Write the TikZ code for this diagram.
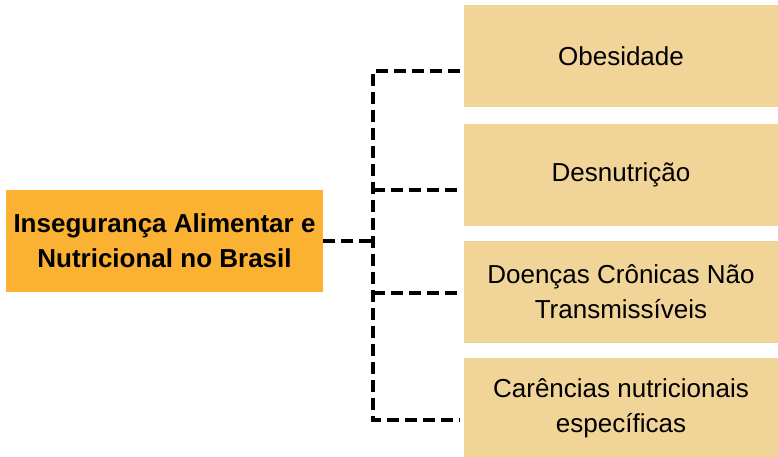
\documentclass[tikz,border=0pt]{standalone}
\usepackage{fontspec}
\setmainfont{Liberation Sans}
\usepackage{xcolor}
\usepackage{tikz}

\definecolor{laranja}{HTML}{FBB232}
\definecolor{bege}{HTML}{F0D498}

\begin{document}
\begin{tikzpicture}[x=1pt, y=-1pt,
    tema/.style={fill=laranja, minimum width=317pt, minimum height=102pt,
        inner sep=0pt, align=center, font=\fontsize{26}{35}\selectfont\bfseries},
    efeito/.style={fill=bege, minimum width=314pt, minimum height=102pt,
        inner sep=0pt, align=center, font=\fontsize{26}{35}\selectfont},
    ligacao/.style={line width=3.4pt, dash pattern=on 12pt off 6pt}]
    \useasboundingbox (0,0) rectangle (778,457);

    % Caixa central
    \node[tema] (inseg) at (164.5,241) {Insegurança Alimentar e\\Nutricional no Brasil};

    % Consequencias
    \node[efeito] (obes) at (621,56) {Obesidade};
    \node[efeito, text height=19pt, text depth=6pt] (desn) at (621,175) {Desnutrição};
    \node[efeito] (dcnt) at (621,291.5) {Doenças Crônicas Não\\Transmissíveis};
    \node[efeito] (care) at (621,408.5) {Carências nutricionais\\específicas};

    % Pontos do tronco tracejado
    \coordinate (troncoA) at (373,71);
    \coordinate (troncoB) at (373,420);
    \coordinate (fimA) at (460,71);
    \coordinate (fimB) at (460,190);
    \coordinate (fimC) at (460,293);
    \coordinate (fimD) at (460,420);

    % Ligacoes
    \draw[ligacao] (fimA) -- (troncoA) -- (troncoB) -- (fimD);
    \draw[ligacao] (inseg.east) -- (inseg.east -| troncoA);
    \draw[ligacao] (fimB -| troncoA) -- (fimB);
    \draw[ligacao] (fimC -| troncoA) -- (fimC);
\end{tikzpicture}
\end{document}
